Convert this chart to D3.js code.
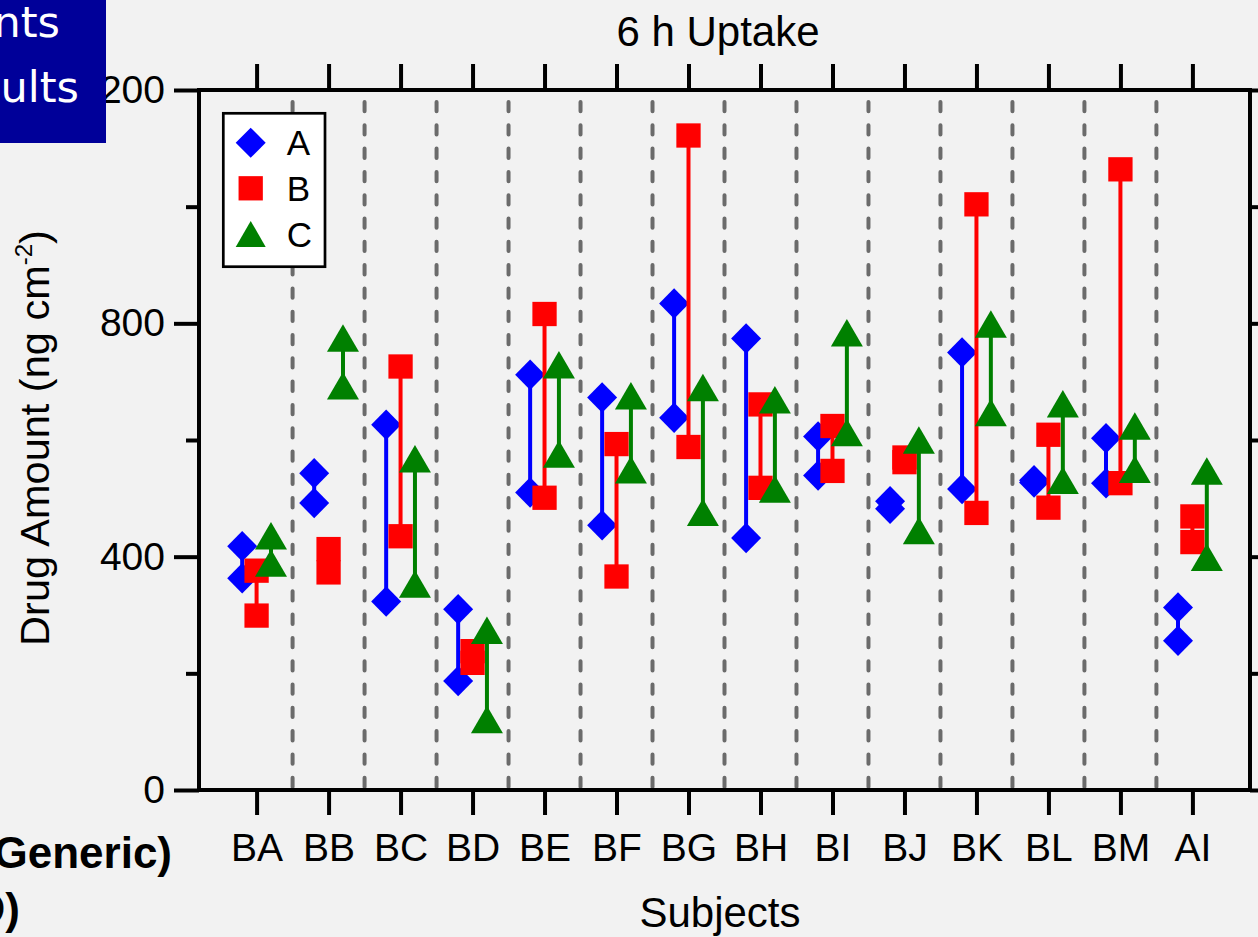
<!DOCTYPE html>
<html>
<head>
<meta charset="utf-8">
<script src="https://cdn.jsdelivr.net/npm/d3@7"></script>
<style>
  html, body { margin: 0; padding: 0; background: #f2f2f2; }
  svg { display: block; font-family: "Liberation Sans", Arial, Helvetica, sans-serif; }
</style>
</head>
<body>
<svg id="chart" width="1258" height="937"></svg>
<script>
// Subjects along the x axis
const subjects = ["BA", "BB", "BC", "BD", "BE", "BF", "BG", "BH", "BI", "BJ", "BK", "BL", "BM", "AI"];
const seriesNames = ["A", "B", "C"];

// Two replicate uptake values per subject (ng cm-2), one pair per subject
const seriesA = [[418, 363], [543, 492], [626, 323], [310, 187], [712, 510], [673, 454], [834, 638],
                 [774, 432], [606, 539], [495, 482], [750, 516], [531, 527], [603, 526], [313, 256]];
const seriesB = [[376, 299], [413, 373], [726, 435], [238, 218], [816, 501], [593, 366], [1122, 588],
                 [661, 518], [624, 547], [570, 562], [1004, 475], [609, 484], [1064, 526], [469, 425]];
const seriesC = [[436, 389], [775, 693], [568, 353], [274, 121], [729, 576], [676, 549], [690, 476],
                 [669, 516], [784, 613], [600, 445], [799, 647], [662, 531], [624, 550], [547, 399]];

const yDomain = [0, 1200];
const yMajorTicks = [0, 400, 800, 1200];
const yMinorTicks = [200, 600, 1000];

const svg = d3.select("#chart");
const plot = { left: 199, right: 1250, top: 90, bottom: 790 };

const x = d3.scalePoint().domain(subjects).range([plot.left, plot.right]).padding(0.8);
const y = d3.scaleLinear().domain(yDomain).range([plot.bottom, plot.top]);
const step = x.step();

// Marker shape generators centred on their bounding box
const shapes = {
  diamond: (w, h) => `M0,${-h / 2}L${w / 2},0L0,${h / 2}L${-w / 2},0Z`,
  square: (w, h) => `M${-w / 2},${-h / 2}H${w / 2}V${h / 2}H${-w / 2}Z`,
  triangle: (w, h) => `M0,${-h / 2}L${w / 2},${h / 2}L${-w / 2},${h / 2}Z`
};

const series = [
  { name: seriesNames[0], values: seriesA, color: "#0000ff", shape: "diamond", w: 30, h: 30.5, legendW: 30, legendH: 30, offset: -0.2 },
  { name: seriesNames[1], values: seriesB, color: "#ff0000", shape: "square", w: 24.3, h: 24.3, legendW: 24.3, legendH: 24.3, offset: 0 },
  { name: seriesNames[2], values: seriesC, color: "#008000", shape: "triangle", w: 32, h: 27.5, legendW: 30, legendH: 26, offset: 0.2 }
];

// Dashed separators between subjects
const separators = d3.pairs(subjects).map(([a, b]) => (x(a) + x(b)) / 2);
svg.append("g")
  .selectAll("line")
  .data(separators)
  .join("line")
  .attr("x1", d => d).attr("x2", d => d)
  .attr("y1", y(yDomain[1]) + 12).attr("y2", y(yDomain[0]))
  .attr("stroke", "#6b6b6b")
  .attr("stroke-width", 4)
  .attr("stroke-linecap", "round")
  .attr("stroke-dasharray", "9.3,14");

// Axes
function styleAxis(g, fontSize) {
  g.select(".domain").remove();
  g.selectAll(".tick line").attr("stroke", "#000").attr("stroke-width", 4);
  g.selectAll(".tick text").attr("fill", "#000").attr("font-size", fontSize)
    .attr("font-family", "'Liberation Sans', Arial, sans-serif");
}

svg.append("g")
  .attr("transform", `translate(${plot.left},0)`)
  .call(d3.axisLeft(y).tickValues(yMajorTicks).tickSize(25).tickSizeOuter(0).tickPadding(9).tickFormat(d3.format("d")))
  .call(g => styleAxis(g, 39));
svg.append("g")
  .attr("transform", `translate(${plot.left},0)`)
  .call(d3.axisLeft(y).tickValues(yMinorTicks).tickSize(13).tickSizeOuter(0).tickFormat(""))
  .call(g => styleAxis(g, 39));

svg.append("g")
  .attr("transform", `translate(${plot.right},0)`)
  .call(d3.axisRight(y).tickValues(yMajorTicks).tickSize(25).tickSizeOuter(0).tickFormat(""))
  .call(g => styleAxis(g, 39));
svg.append("g")
  .attr("transform", `translate(${plot.right},0)`)
  .call(d3.axisRight(y).tickValues(yMinorTicks).tickSize(13).tickSizeOuter(0).tickFormat(""))
  .call(g => styleAxis(g, 39));

svg.append("g")
  .attr("transform", `translate(0,${plot.bottom})`)
  .call(d3.axisBottom(x).tickSize(25).tickSizeOuter(0).tickPadding(18))
  .call(g => styleAxis(g, 39));

svg.append("g")
  .attr("transform", `translate(0,${plot.top})`)
  .call(d3.axisTop(x).tickSize(26).tickSizeOuter(0).tickFormat(""))
  .call(g => styleAxis(g, 39));

// Plot frame
svg.append("rect")
  .attr("x", plot.left).attr("y", plot.top)
  .attr("width", plot.right - plot.left).attr("height", plot.bottom - plot.top)
  .attr("fill", "none").attr("stroke", "#000").attr("stroke-width", 4);

// Replicate range lines and markers, series by series
series.forEach(s => {
  const g = svg.append("g").attr("class", "series-" + s.name);
  const cx = (d, i) => x(subjects[i]) + s.offset * step;
  g.selectAll("line")
    .data(s.values)
    .join("line")
    .attr("x1", cx).attr("x2", cx)
    .attr("y1", d => y(d[0])).attr("y2", d => y(d[1]))
    .attr("stroke", s.color).attr("stroke-width", 4);
  const pts = s.values.flatMap((pair, i) => pair.map(v => ({ i, v })));
  g.selectAll("path")
    .data(pts)
    .join("path")
    .attr("d", shapes[s.shape](s.w, s.h))
    .attr("transform", d => `translate(${x(subjects[d.i]) + s.offset * step},${y(d.v)})`)
    .attr("fill", s.color);
});

// Legend
const legend = svg.append("g").attr("transform", "translate(223.3,113.3)");
legend.append("rect")
  .attr("width", 101.7).attr("height", 153.4)
  .attr("fill", "#fff").attr("stroke", "#000").attr("stroke-width", 2.7);
series.forEach((s, k) => {
  const row = legend.append("g").attr("transform", `translate(0,${29.4 + k * 45.6})`);
  row.append("path")
    .attr("d", shapes[s.shape](s.legendW, s.legendH))
    .attr("transform", "translate(27.4,0)")
    .attr("fill", s.color);
  row.append("text")
    .attr("x", 63.4).attr("dy", "0.36em")
    .attr("font-size", 35)
    .text(s.name);
});

// Titles
svg.append("text")
  .attr("x", 718).attr("y", 46)
  .attr("text-anchor", "middle").attr("font-size", 42)
  .text("6 h Uptake");

svg.append("text")
  .attr("x", 720).attr("y", 927)
  .attr("text-anchor", "middle").attr("font-size", 42)
  .text("Subjects");

const yTitle = svg.append("text")
  .attr("transform", "translate(49,438) rotate(-90)")
  .attr("text-anchor", "middle").attr("font-size", 41.5);
yTitle.append("tspan").text("Drug Amount (ng cm");
yTitle.append("tspan").attr("font-size", 24).attr("dy", -17).text("-2");
yTitle.append("tspan").attr("dy", 17).text(")");

// Slide elements around the chart
svg.append("rect")
  .attr("x", 0).attr("y", 0).attr("width", 106).attr("height", 143)
  .attr("fill", "#000099");
svg.append("text")
  .attr("x", 60).attr("y", 36.7).attr("text-anchor", "end")
  .attr("font-family", "'DejaVu Sans', sans-serif")
  .attr("font-size", 43).attr("fill", "#fff").text("nts");
svg.append("text")
  .attr("x", 79).attr("y", 101.7).attr("text-anchor", "end")
  .attr("font-family", "'DejaVu Sans', sans-serif")
  .attr("font-size", 43).attr("fill", "#fff").text("ults");

svg.append("text")
  .attr("x", 172).attr("y", 868).attr("text-anchor", "end")
  .attr("font-size", 44).attr("font-weight", "bold").text("Generic)");
svg.append("text")
  .attr("x", 20).attr("y", 924).attr("text-anchor", "end")
  .attr("font-size", 44).attr("font-weight", "bold").text("(RLD)");
</script>
</body>
</html>
